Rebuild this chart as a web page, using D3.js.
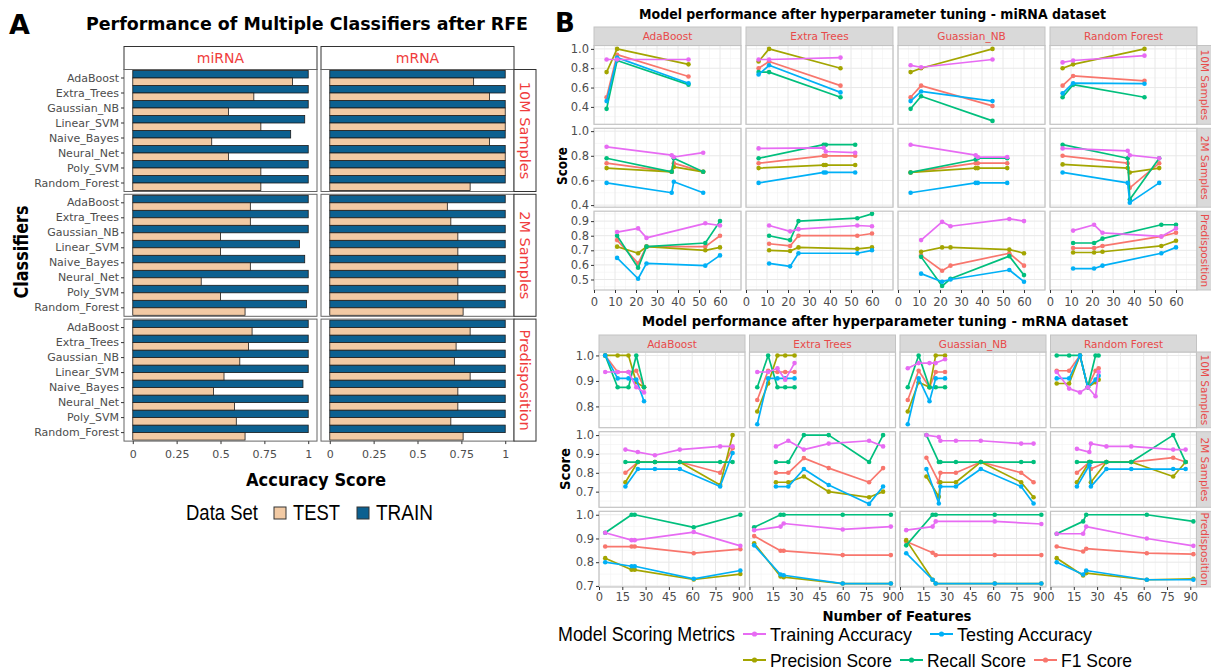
<!DOCTYPE html>
<html><head><meta charset="utf-8">
<script src="https://cdn.jsdelivr.net/npm/d3@7"></script>
<style>
body{margin:0;background:#fff;}
text{font-family:"DejaVu Sans",sans-serif;}
</style></head>
<body><svg id="c" width="1211" height="672"></svg>
<script>
// ---------------- DATA : Panel A (bar chart) ----------------
const classifiers = ["AdaBoost","Extra_Trees","Gaussian_NB","Linear_SVM","Naive_Bayes","Neural_Net","Poly_SVM","Random_Forest"];
const barDatasets = ["miRNA","mRNA"];
const sampleSets = ["10M Samples","2M Samples","Predisposition"];
const dataSetLevels = ["TRAIN","TEST"];
const accuracyTicks = [0,0.25,0.5,0.75,1];
const accuracyTickLabels = ["0","0.25","0.5","0.75","1"];

const miRNA_10M_train = [1.0,1.0,1.0,0.98,0.90,1.0,1.0,1.0];
const miRNA_10M_test  = [0.91,0.69,0.545,0.73,0.45,0.545,0.73,0.73];
const mRNA_10M_train  = [1.0,1.0,1.0,1.0,1.0,1.0,1.0,1.0];
const mRNA_10M_test   = [0.82,0.91,1.0,1.0,0.91,1.0,1.0,0.80];
const miRNA_2M_train  = [1.0,1.0,1.0,0.95,0.98,1.0,1.0,0.99];
const miRNA_2M_test   = [0.67,0.67,0.50,0.50,0.67,0.39,0.50,0.64];
const mRNA_2M_train   = [1.0,1.0,1.0,1.0,1.0,1.0,1.0,1.0];
const mRNA_2M_test    = [0.67,0.69,0.73,0.73,0.73,0.73,0.73,0.76];
const miRNA_Pred_train= [1.0,1.0,1.0,1.0,0.97,1.0,1.0,1.0];
const miRNA_Pred_test = [0.68,0.66,0.61,0.52,0.46,0.58,0.59,0.64];
const mRNA_Pred_train = [1.0,1.0,1.0,1.0,1.0,1.0,1.0,1.0];
const mRNA_Pred_test  = [0.80,0.72,0.71,0.80,0.73,0.73,0.69,0.76];

// ---------------- DATA : Panel B (line charts) ----------------
const models = ["AdaBoost","Extra Trees","Guassian_NB","Random Forest"];
const metricLabels = ["Training Accuracy","Testing Accuracy","Precision Score","Recall Score","F1 Score"];
const miRNAFeatureTicks = [0,10,20,30,40,50,60];
const mRNAFeatureTicks = [0,15,30,45,60,75,90];
const miRNAScoreTicks = [[0.4,0.6,0.8,1.0],[0.4,0.6,0.8,1.0],[0.5,0.6,0.7,0.8,0.9]];
const mRNAScoreTicks = [[0.8,0.9,1.0],[0.7,0.8,0.9,1.0],[0.7,0.8,0.9,1.0]];
const miRNAScoreLimits = [[0.22,1.035],[0.383,1.023],[0.428,0.968]];
const mRNAScoreLimits = [[0.7165,1.0135],[0.617,1.018],[0.6955,1.0145]];
const miRNAFeatureLimits = [0,70];
const mRNAFeatureLimits = [0,94];

// miRNA, 10M Samples
const mi10_AdaBoost = {features:[6,11,45], training:[0.89,0.89,0.89], testing:[0.46,0.91,0.645], precision:[0.76,1.0,0.84], recall:[0.38,0.88,0.63], f1:[0.50,0.94,0.715]};
const mi10_ExtraTrees = {features:[6,11,45], training:[0.89,0.89,0.91], testing:[0.735,0.83,0.55], precision:[0.87,1.0,0.80], recall:[0.76,0.76,0.50], f1:[0.80,0.87,0.62]};
const mi10_GaussianNB = {features:[6,11,45], training:[0.83,0.81,0.89], testing:[0.46,0.56,0.46], precision:[0.76,0.80,1.0], recall:[0.38,0.51,0.255], f1:[0.50,0.62,0.41]};
const mi10_RandomForest = {features:[6,11,45], training:[0.86,0.88,0.93], testing:[0.54,0.645,0.64], precision:[0.80,0.84,1.0], recall:[0.50,0.63,0.50], f1:[0.62,0.72,0.67]};
// miRNA, 2M Samples
const mi2_AdaBoost = {features:[6,37,38,52], training:[0.873,0.805,0.79,0.825], testing:[0.58,0.50,0.59,0.50], precision:[0.70,0.67,0.71,0.67], recall:[0.78,0.67,0.78,0.67], f1:[0.74,0.67,0.74,0.67]};
const mi2_ExtraTrees = {features:[6,37,38,52], training:[0.86,0.865,0.835,0.825], testing:[0.58,0.665,0.665,0.665], precision:[0.70,0.725,0.725,0.725], recall:[0.78,0.89,0.89,0.89], f1:[0.74,0.80,0.80,0.80]};
const mi2_GaussianNB = {features:[6,37,38,52], training:[0.89,0.805,0.79,0.79], testing:[0.50,0.58,0.58,0.58], precision:[0.665,0.70,0.70,0.70], recall:[0.665,0.77,0.78,0.78], f1:[0.665,0.74,0.74,0.74]};
const mi2_RandomForest = {features:[6,37,38,52], training:[0.86,0.84,0.805,0.78], testing:[0.665,0.58,0.42,0.58], precision:[0.73,0.70,0.665,0.70], recall:[0.89,0.78,0.445,0.78], f1:[0.80,0.74,0.54,0.74]};
// miRNA, Predisposition
const miP_AdaBoost = {features:[11,21,25,53,60], training:[0.825,0.85,0.785,0.885,0.87], testing:[0.648,0.505,0.61,0.595,0.665], precision:[0.725,0.68,0.725,0.70,0.72], recall:[0.80,0.58,0.725,0.75,0.90], f1:[0.77,0.61,0.725,0.725,0.80]};
const miP_ExtraTrees = {features:[11,21,25,53,60], training:[0.87,0.83,0.845,0.87,0.865], testing:[0.61,0.59,0.68,0.68,0.70], precision:[0.70,0.695,0.72,0.71,0.72], recall:[0.80,0.77,0.90,0.92,0.95], f1:[0.745,0.73,0.80,0.80,0.815]};
const miP_GaussianNB = {features:[11,21,25,53,60], training:[0.77,0.895,0.865,0.915,0.90], testing:[0.54,0.485,0.50,0.565,0.485], precision:[0.69,0.72,0.72,0.705,0.68], recall:[0.655,0.455,0.505,0.66,0.53], f1:[0.665,0.56,0.595,0.68,0.595]};
const miP_RandomForest = {features:[11,21,25,53,60], training:[0.835,0.875,0.82,0.795,0.85], testing:[0.575,0.575,0.595,0.68,0.72], precision:[0.685,0.685,0.69,0.73,0.765], recall:[0.75,0.75,0.78,0.875,0.875], f1:[0.715,0.715,0.73,0.795,0.82]};
// mRNA, 10M Samples
const m10_AdaBoost = {features:[4,12,19,24,29], training:[0.935,0.935,0.935,0.875,0.855], testing:[1.0,0.91,0.91,0.905,0.82], precision:[1.0,1.0,1.0,0.895,0.875], recall:[1.0,0.875,0.875,1.0,0.875], f1:[1.0,0.935,0.935,0.94,0.875]};
const m10_ExtraTrees = {features:[5,12,18,23,29], training:[0.935,0.935,0.95,0.905,0.97], testing:[0.73,0.91,0.91,0.91,0.91], precision:[0.78,0.89,1.0,1.0,1.0], recall:[0.875,1.0,0.875,0.875,0.875], f1:[0.825,0.94,0.935,0.935,0.935]};
const m10_GaussianNB = {features:[5,12,19,23,29], training:[0.95,0.97,0.97,0.97,0.985], testing:[0.73,0.91,0.82,0.91,0.91], precision:[0.78,0.895,0.875,1.0,1.0], recall:[0.875,1.0,0.875,0.875,0.875], f1:[0.825,0.94,0.875,0.935,0.935]};
const m10_RandomForest = {features:[4,12,19,24,29,31], training:[0.935,0.87,0.855,0.875,0.84,0.935], testing:[0.91,0.91,1.0,0.875,0.905,0.92], precision:[0.89,0.89,1.0,0.875,0.895,0.905], recall:[1.0,1.0,1.0,0.875,1.0,1.0], f1:[0.94,0.94,1.0,0.875,0.94,0.95]};
// mRNA, 2M Samples
const m2_AdaBoost = {features:[17,25,36,52,78,86], training:[0.923,0.91,0.893,0.923,0.94,0.94], testing:[0.727,0.82,0.82,0.82,0.727,0.905], precision:[0.75,0.857,0.857,0.857,0.735,1.0], recall:[0.857,0.857,0.857,0.857,0.857,0.857], f1:[0.80,0.857,0.857,0.857,0.80,0.93]};
const m2_ExtraTrees = {features:[17,25,35,51,77,86], training:[0.94,0.97,0.923,0.955,0.97,0.94], testing:[0.727,0.727,0.82,0.735,0.635,0.727], precision:[0.75,0.75,0.78,0.70,0.67,0.70], recall:[0.857,0.857,1.0,1.0,0.857,1.0], f1:[0.80,0.80,0.878,0.825,0.75,0.825]};
const m2_GaussianNB = {features:[17,25,26,36,52,78,86], training:[1.0,0.99,0.97,0.97,0.97,0.955,0.955], testing:[0.82,0.637,0.727,0.727,0.82,0.727,0.637], precision:[0.78,0.673,0.75,0.75,0.857,0.75,0.67], recall:[1.0,0.857,0.857,0.857,0.857,0.857,0.857], f1:[0.88,0.75,0.80,0.80,0.857,0.80,0.75]};
const m2_RandomForest = {features:[17,25,26,36,52,79,87], training:[0.927,0.91,0.955,0.94,0.94,0.923,0.923], testing:[0.727,0.84,0.727,0.82,0.82,0.82,0.82], precision:[0.75,0.857,0.75,0.857,0.857,0.78,0.857], recall:[0.857,0.857,0.857,0.857,0.857,1.0,0.857], f1:[0.80,0.857,0.82,0.857,0.857,0.88,0.857]};
// mRNA, Predisposition
const mP_AdaBoost = {features:[4,21,23,61,91], training:[0.924,0.893,0.893,0.927,0.869], testing:[0.80,0.783,0.783,0.73,0.765], precision:[0.817,0.768,0.768,0.727,0.75], recall:[0.924,1.0,1.0,0.947,1.0], f1:[0.866,0.866,0.866,0.838,0.855]};
const mP_ExtraTrees = {features:[3,20,22,60,91], training:[0.935,0.95,0.963,0.938,0.95], testing:[0.871,0.748,0.745,0.71,0.71], precision:[0.88,0.74,0.737,0.71,0.71], recall:[0.947,1.0,1.0,1.0,1.0], f1:[0.91,0.848,0.848,0.83,0.83]};
const mP_GaussianNB = {features:[4,21,23,61,91], training:[0.935,0.95,0.972,0.972,0.961], testing:[0.838,0.726,0.71,0.71,0.71], precision:[0.893,0.726,0.71,0.71,0.71], recall:[0.871,1.0,1.0,1.0,1.0], f1:[0.887,0.84,0.83,0.83,0.83]};
const mP_RandomForest = {features:[4,21,23,62,92], training:[0.92,0.92,0.95,0.90,0.869], testing:[0.80,0.748,0.765,0.726,0.726], precision:[0.817,0.744,0.754,0.726,0.73], recall:[0.92,0.972,1.0,1.0,0.972], f1:[0.866,0.845,0.857,0.838,0.834]};

// ---------------- STYLE / LAYOUT ----------------
const svg = d3.select("#c");
svg.append("rect").attr("width",1211).attr("height",672).attr("fill","#fff");
const TRAIN_COL = "#0c6090", TEST_COL = "#f2caa4";
const STRIP_RED = "#f03c3c", STRIP_RED_B = "#e84a4a";
const TICK_GRAY = "#4d4d4d";
const metricKeys = ["training","testing","precision","recall","f1"];
const metricColor = {training:"#E76BF3", testing:"#00B0F6", precision:"#A3A500", recall:"#00BF7D", f1:"#F8766D"};
const drawOrder = ["f1","precision","recall","testing","training"];

function txt(g, s, x, y, o) {
  o = o || {};
  const t = g.append("text").attr("x", x).attr("y", y).text(s)
    .attr("font-size", o.size || 11)
    .attr("fill", o.fill || "#000")
    .attr("text-anchor", o.anchor || "start");
  if (o.family) t.style("font-family", o.family);
  if (o.weight) t.attr("font-weight", o.weight);
  if (o.len) t.attr("textLength", o.len).attr("lengthAdjust", "spacingAndGlyphs");
  if (o.rotate) t.attr("transform", `rotate(${o.rotate},${x},${y})`);
  if (o.baseline) t.attr("dominant-baseline", o.baseline);
  return t;
}

// ================= PANEL A =================
const gA = svg.append("g");
txt(gA, "A", 9, 34, {size:27, weight:"bold"});
txt(gA, "Performance of Multiple Classifiers after RFE", 307, 30, {size:18, weight:"bold", anchor:"middle", len:442});

const barTable = {
  "miRNA": {"10M Samples":[miRNA_10M_train, miRNA_10M_test], "2M Samples":[miRNA_2M_train, miRNA_2M_test], "Predisposition":[miRNA_Pred_train, miRNA_Pred_test]},
  "mRNA":  {"10M Samples":[mRNA_10M_train, mRNA_10M_test], "2M Samples":[mRNA_2M_train, mRNA_2M_test], "Predisposition":[mRNA_Pred_train, mRNA_Pred_test]}
};
const aCols = [[124,317],[321,514]];
const aStripTop = 46.5, aRowTop = 69.5, aRowH = 122, aRowPitch = 124.8;

aCols.forEach((c, ci) => {
  const x = d3.scaleLinear().domain([-0.05,1.05]).range(c);
  gA.append("rect").attr("x", c[0]).attr("y", aStripTop).attr("width", c[1]-c[0]).attr("height", aRowTop-aStripTop)
    .attr("fill","#fff").attr("stroke","#333").attr("stroke-width",1);
  txt(gA, barDatasets[ci], (c[0]+c[1])/2, (aStripTop+aRowTop)/2, {size:14, fill:STRIP_RED, anchor:"middle", baseline:"central"});
  sampleSets.forEach((s, ri) => {
    const top = aRowTop + ri*aRowPitch, bot = top + aRowH;
    const y = d3.scaleBand().domain(classifiers).range([top+1, bot-1]);
    const sub = d3.scaleBand().domain(dataSetLevels).range([0, y.bandwidth()]);
    gA.append("rect").attr("x", c[0]).attr("y", top).attr("width", c[1]-c[0]).attr("height", aRowH).attr("fill","#fff");
    const vals = barTable[barDatasets[ci]][s];
    dataSetLevels.forEach((lvl, li) => {
      gA.append("g").selectAll("rect").data(classifiers).join("rect")
        .attr("x", x(0)).attr("y", d => y(d) + sub(lvl))
        .attr("width", (d,i) => x(vals[li][i]) - x(0)).attr("height", sub.bandwidth())
        .attr("fill", lvl === "TRAIN" ? TRAIN_COL : TEST_COL)
        .attr("stroke", "#1a1a1a").attr("stroke-width", 0.8);
    });
    gA.append("rect").attr("x", c[0]).attr("y", top).attr("width", c[1]-c[0]).attr("height", aRowH)
      .attr("fill","none").attr("stroke","#666").attr("stroke-width",1);
    if (ci === 0) {
      const ax = gA.append("g").attr("transform", `translate(${c[0]},0)`).call(d3.axisLeft(y).tickSize(3).tickPadding(2));
      ax.select(".domain").remove();
      ax.selectAll("text").attr("font-size", 11).attr("fill", TICK_GRAY).style("font-family","DejaVu Sans");
      ax.selectAll("line").attr("stroke", "#333");
    }
    if (ci === 1) {
      gA.append("rect").attr("x", 514).attr("y", top).attr("width", 22).attr("height", aRowH)
        .attr("fill","#fff").attr("stroke","#333").attr("stroke-width",1);
      txt(gA, s, 525, (top+bot)/2, {size:14.5, fill:STRIP_RED, anchor:"middle", baseline:"central", rotate:90});
    }
    if (ri === 2) {
      const ax = gA.append("g").attr("transform", `translate(0,${bot})`)
        .call(d3.axisBottom(x).tickValues(accuracyTicks).tickFormat((d,i)=>accuracyTickLabels[i]).tickSize(3).tickPadding(6));
      ax.select(".domain").remove();
      ax.selectAll("text").attr("font-size", 11).attr("fill", TICK_GRAY).style("font-family","DejaVu Sans");
      ax.selectAll("line").attr("stroke", "#333");
    }
  });
});
txt(gA, "Classifiers", 28, 252, {size:20, weight:"bold", anchor:"middle", rotate:-90, len:93});
txt(gA, "Accuracy Score", 316, 486, {size:17, weight:"bold", anchor:"middle", len:140});
// legend A
const narrow = "'Liberation Sans', Arial, sans-serif";
txt(gA, "Data Set", 186, 520, {size:22, family:narrow, len:72});
gA.append("rect").attr("x",274).attr("y",507).attr("width",12).attr("height",12).attr("fill",TEST_COL).attr("stroke","#333");
txt(gA, "TEST", 293, 520, {size:22, family:narrow, len:47});
gA.append("rect").attr("x",357).attr("y",507).attr("width",12).attr("height",12).attr("fill",TRAIN_COL).attr("stroke","#333");
txt(gA, "TRAIN", 376, 520, {size:22, family:narrow, len:57});

// ================= PANEL B =================
const gB = svg.append("g");
txt(gB, "B", 555, 32, {size:26, weight:"bold"});

function drawSection(sec) {
  const g = gB.append("g");
  txt(g, sec.title, sec.titleX, sec.titleY, {size:14, weight:"bold", anchor:"middle", len:sec.titleLen});
  sec.rows.forEach((row, ri) => {
    const y = d3.scaleLinear().domain(sec.yLimits[ri]).range([row[1], row[0]]);
    const yt = sec.yTicks[ri], ystep = yt[1]-yt[0];
    const yMinor = [yt[0]-ystep/2].concat(yt.map(t => t+ystep/2)).filter(v => v > sec.yLimits[ri][0] && v < sec.yLimits[ri][1]);
    sec.cols.forEach((left, ci) => {
      const x = d3.scaleLinear().domain(sec.xLimits).range([left, left+sec.colW]);
      const xt = sec.xTicks, xstep = xt[1]-xt[0];
      const xMinor = xt.map(t => t+xstep/2).filter(v => v < sec.xLimits[1]);
      const xMajor = xt.concat([xt[xt.length-1]+xstep]).filter(v => v <= sec.xLimits[1]);
      g.append("rect").attr("x", left).attr("y", row[0]).attr("width", sec.colW).attr("height", row[1]-row[0]).attr("fill","#fff");
      const grid = g.append("g");
      grid.selectAll(".ym").data(yMinor).join("line").attr("x1",left).attr("x2",left+sec.colW).attr("y1",d=>y(d)).attr("y2",d=>y(d)).attr("stroke","#f2f2f2").attr("stroke-width",0.6);
      grid.selectAll(".xm").data(xMinor).join("line").attr("y1",row[0]).attr("y2",row[1]).attr("x1",d=>x(d)).attr("x2",d=>x(d)).attr("stroke","#f2f2f2").attr("stroke-width",0.6);
      grid.selectAll(".yM").data(yt).join("line").attr("x1",left).attr("x2",left+sec.colW).attr("y1",d=>y(d)).attr("y2",d=>y(d)).attr("stroke","#e8e8e8").attr("stroke-width",1);
      grid.selectAll(".xM").data(xMajor).join("line").attr("y1",row[0]).attr("y2",row[1]).attr("x1",d=>x(d)).attr("x2",d=>x(d)).attr("stroke","#e8e8e8").attr("stroke-width",1);
      const pd = sec.data[ri][ci];
      drawOrder.forEach(k => {
        const pts = pd.features.map((f,i) => [x(f), y(pd[k][i])]);
        g.append("path").attr("d", d3.line()(pts)).attr("fill","none").attr("stroke", metricColor[k]).attr("stroke-width",1.7).attr("stroke-linejoin","round");
        g.append("g").selectAll("circle").data(pts).join("circle").attr("cx",d=>d[0]).attr("cy",d=>d[1]).attr("r",2.3).attr("fill",metricColor[k]);
      });
      g.append("rect").attr("x", left).attr("y", row[0]).attr("width", sec.colW).attr("height", row[1]-row[0])
        .attr("fill","none").attr("stroke","#c3c3c3").attr("stroke-width",1.2);
      if (ri === 0) {
        g.append("rect").attr("x", left).attr("y", sec.stripTop).attr("width", sec.colW).attr("height", row[0]-sec.stripTop)
          .attr("fill","#d9d9d9").attr("stroke","#c3c3c3").attr("stroke-width",1);
        txt(g, models[ci], left+sec.colW/2, (sec.stripTop+row[0])/2, {size:10.5, fill:STRIP_RED_B, anchor:"middle", baseline:"central"});
      }
      if (ci === 0) {
        const ax = g.append("g").attr("transform", `translate(${left},0)`).call(d3.axisLeft(y).tickValues(yt).tickFormat(d3.format(".1f")).tickSize(3).tickPadding(2));
        ax.select(".domain").remove();
        ax.selectAll("text").attr("font-size", 11.5).attr("fill", TICK_GRAY).style("font-family","DejaVu Sans");
        ax.selectAll("line").attr("stroke", "#333");
      }
      if (ri === sec.rows.length-1) {
        const ax = g.append("g").attr("transform", `translate(0,${row[1]})`).call(d3.axisBottom(x).tickValues(xt).tickSize(3).tickPadding(sec.xPad));
        ax.select(".domain").remove();
        ax.selectAll("text").attr("font-size", 11.5).attr("fill", TICK_GRAY).style("font-family","DejaVu Sans");
        ax.selectAll("line").attr("stroke", "#333");
      }
    });
    const sx = sec.cols[sec.cols.length-1] + sec.colW;
    g.append("rect").attr("x", sx).attr("y", row[0]).attr("width", 18).attr("height", row[1]-row[0])
      .attr("fill","#d9d9d9").attr("stroke","#c3c3c3").attr("stroke-width",1);
    txt(g, sampleSets[ri], sx+8, (row[0]+row[1])/2, {size:10.5, fill:STRIP_RED_B, anchor:"middle", baseline:"central", rotate:90});
  });
  txt(g, "Score", sec.scoreX, sec.scoreY, {size:14, weight:"bold", anchor:"middle", rotate:-90, baseline:"central", len:sec.scoreLen});
}

drawSection({
  title:"Model performance after hyperparameter tuning - miRNA dataset", titleX:872.5, titleY:19, titleLen:467,
  cols:[594,746,898,1050], colW:147, stripTop:27,
  rows:[[45.5,124.3],[128.3,207.2],[211.2,290]],
  xLimits:miRNAFeatureLimits, xTicks:miRNAFeatureTicks, xPad:5,
  yLimits:miRNAScoreLimits, yTicks:miRNAScoreTicks,
  data:[[mi10_AdaBoost,mi10_ExtraTrees,mi10_GaussianNB,mi10_RandomForest],
        [mi2_AdaBoost,mi2_ExtraTrees,mi2_GaussianNB,mi2_RandomForest],
        [miP_AdaBoost,miP_ExtraTrees,miP_GaussianNB,miP_RandomForest]],
  scoreX:562, scoreY:166, scoreLen:38
});
drawSection({
  title:"Model performance after hyperparameter tuning - mRNA dataset", titleX:885, titleY:326, titleLen:486,
  cols:[599,749.5,900,1050.5], colW:146, stripTop:335,
  rows:[[352,427.7],[431.7,507.3],[511.3,587]],
  xLimits:mRNAFeatureLimits, xTicks:mRNAFeatureTicks, xPad:3,
  yLimits:mRNAScoreLimits, yTicks:mRNAScoreTicks,
  data:[[m10_AdaBoost,m10_ExtraTrees,m10_GaussianNB,m10_RandomForest],
        [m2_AdaBoost,m2_ExtraTrees,m2_GaussianNB,m2_RandomForest],
        [mP_AdaBoost,mP_ExtraTrees,mP_GaussianNB,mP_RandomForest]],
  scoreX:565, scoreY:469, scoreLen:42
});
txt(gB, "Number of Features", 897, 621, {size:14, weight:"bold", anchor:"middle", len:149});

// legend B
txt(gB, "Model Scoring Metrics", 558, 641, {size:20, family:narrow, len:177});
const legItems = [
  {k:"training", x:743, y:634, len:142},
  {k:"testing", x:930, y:634, len:135},
  {k:"precision", x:743, y:660, len:122},
  {k:"recall", x:900, y:660, len:99},
  {k:"f1", x:1034, y:660, len:71}
];
legItems.forEach(it => {
  const c = metricColor[it.k];
  gB.append("line").attr("x1", it.x).attr("x2", it.x+23).attr("y1", it.y).attr("y2", it.y).attr("stroke", c).attr("stroke-width", 2);
  gB.append("circle").attr("cx", it.x+11.5).attr("cy", it.y).attr("r", 2.6).attr("fill", c);
  txt(gB, metricLabels[metricKeys.indexOf(it.k)], it.x+27, it.y+7, {size:19, family:narrow, len:it.len});
});
</script>
</body></html>
